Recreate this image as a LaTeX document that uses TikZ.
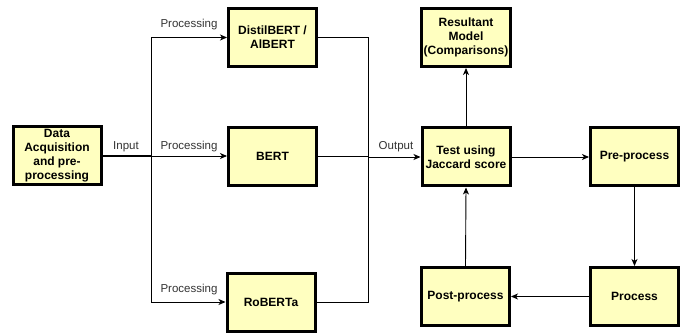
\documentclass[tikz,border=0pt]{standalone}
\usepackage{fontspec}
\setmainfont{Liberation Sans}
\usetikzlibrary{arrows.meta}
\definecolor{boxfill}{RGB}{255,255,192}
\definecolor{labelgray}{RGB}{51,51,51}
\tikzset{
  stage/.style={draw=black, line width=3pt, fill=boxfill,
    minimum width=88pt, minimum height=58pt, inner sep=2pt,
    align=center, font=\fontsize{12}{14}\selectfont\bfseries},
  link/.style={draw=black, line width=0.9pt,
    -{Stealth[length=7pt,width=6pt,inset=2pt]}},
  plain/.style={draw=black, line width=0.9pt},
  tag/.style={text=labelgray, font=\fontsize{11.5}{13}\selectfont, inner sep=1pt}
}
\begin{document}
\begin{tikzpicture}[x=1pt,y=-1pt]
\useasboundingbox (0,0) rectangle (686,334);

% stages
\node[stage] (data) at (57,156) {Data\\Acquisition\\and pre-\\processing};
\node[stage] (distil) at (272.5,37.5) {DistilBERT /\\AlBERT};
\node[stage] (bert) at (272.5,156.5) {BERT};
\node[stage] (roberta) at (271,302) {RoBERTa};
\node[stage] (test) at (466,157) {Test using\\Jaccard score};
\node[stage] (result) at (466,37.5) {Resultant\\Model\\(Comparisons)};
\node[stage] (pre) at (634.5,156.5) {Pre-process};
\node[stage] (proc) at (634.5,296.5) {Process};
\node[stage] (post) at (465.5,296.5) {Post-process};

% junctions of the fan-out and fan-in
\coordinate (split) at (151,156);
\coordinate (merge) at (368,157);

% fan-out to the three models
\draw[plain, line width=1.8pt] (data.east) -- (split);
\draw[link] (split) |- (distil.west);
\draw[link] (split) -- (bert.west |- split);
\draw[link] (split) |- (roberta.west);

% fan-in to the test stage
\draw[plain] (distil.east) -| (merge);
\draw[plain] (roberta.east) -| (merge);
\draw[plain] (bert.east) -- (merge |- bert.east);
\draw[link] (merge) -- (test.west);

% evaluation loop
\draw[link] (test.north) -- (result.south);
\draw[link] (test.east) -- (pre.west |- test.east);
\draw[link] (pre.south) -- (proc.north);
\draw[link] (proc.west) -- (post.east);
\draw[link] (post.north) -- (test.south);

% edge labels
\node[tag] (lin) at (126,147) {Input};
\node[tag] (lp1) at (189,25) {Processing};
\node[tag] (lp2) at (189,147) {Processing};
\node[tag] (lp3) at (189,290) {Processing};
\node[tag] (lout) at (396,147) {Output};
\end{tikzpicture}
\end{document}
